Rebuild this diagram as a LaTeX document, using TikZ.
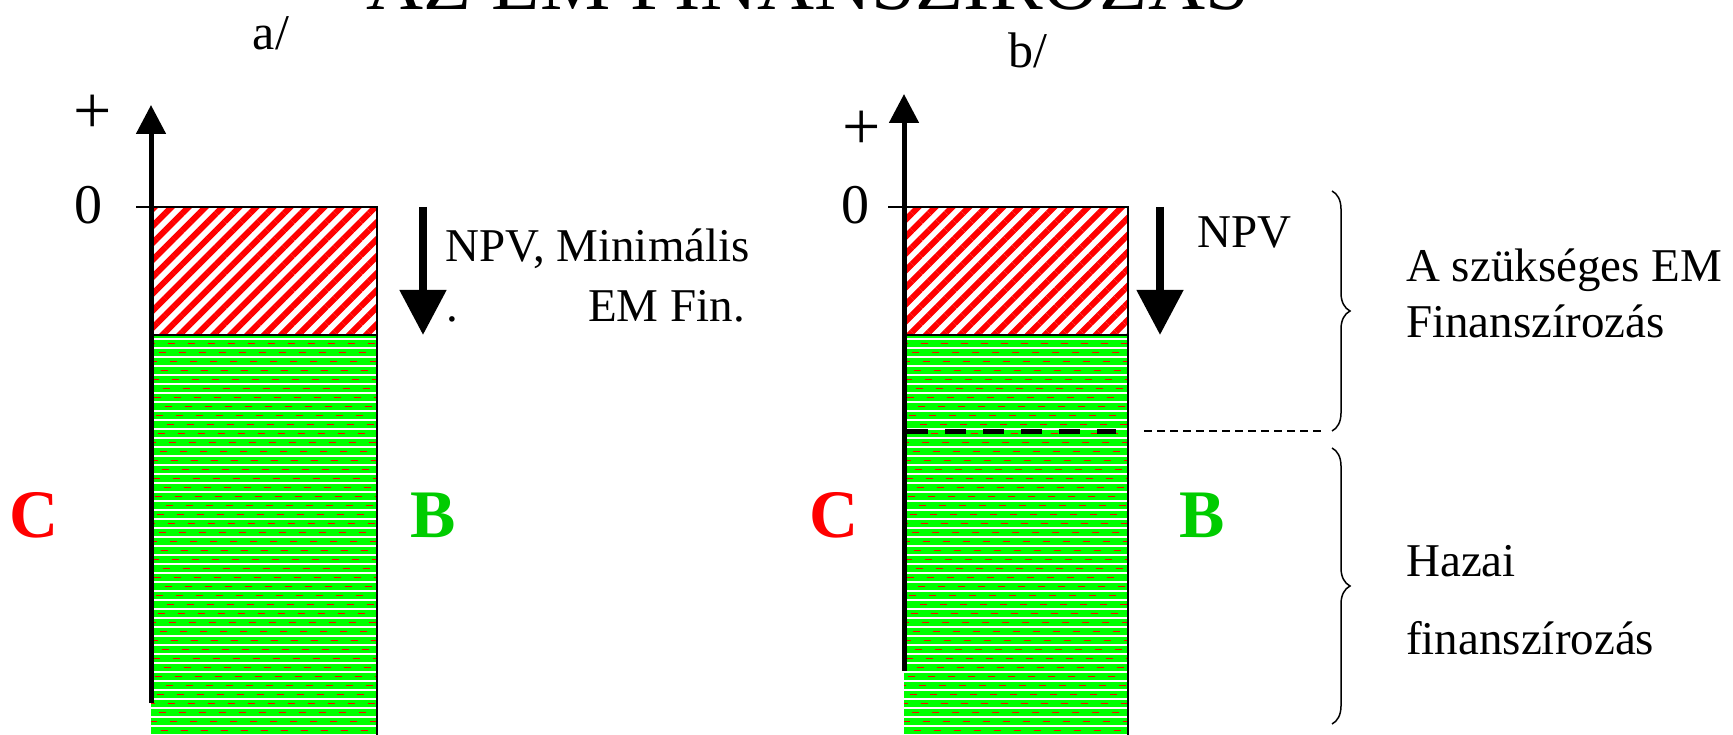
\documentclass[tikz,border=0pt]{standalone}
\usepackage{fontspec}
\setmainfont{Liberation Serif}
\usetikzlibrary{positioning, arrows.meta, patterns.meta, decorations.pathreplacing}
\definecolor{emred}{RGB}{255,0,0}
\definecolor{homegreen}{RGB}{0,255,0}
\definecolor{lettergreen}{RGB}{0,204,0}

\begin{document}
\begin{tikzpicture}[x=1pt, y=-1pt,
    txt/.style={inner sep=0pt, font=\fontsize{47}{54}\selectfont},
    signtxt/.style={inner sep=0pt, font=\fontsize{56}{60}\selectfont},
    plustxt/.style={inner sep=0pt, font=\fontsize{68}{70}\selectfont},
    bigletter/.style={inner sep=0pt, font=\fontsize{68}{70}\selectfont\bfseries},
    axisline/.style={line width=5pt, -{Triangle[width=29pt,length=29pt]}},
    npvarrow/.style={line width=8pt, -{Triangle[width=45pt,length=45pt]}},
    edge/.style={line width=2pt},
    redhatch/.style={pattern={Lines[angle=45,distance=12pt,line width=6pt]}, pattern color=emred}]

    \useasboundingbox (0,0) rectangle (1733,735);

    % Title, mostly cut off at the top edge
    \node[inner sep=0pt, anchor=base, font=\fontsize{79}{80}\selectfont] (title) at (808,10) {AZ EM FINANSZÍROZÁS};

    % Panel labels
    \node[inner sep=0pt, font=\fontsize{50}{56}\selectfont] (panela) at (271,33) {a/};
    \node[inner sep=0pt, font=\fontsize{50}{56}\selectfont] (panelb) at (1028,50) {b/};

    % ---------------- panel a ----------------
    % Red hatched part (EM financing)
    \fill[white] (151,207) rectangle (377,335);
    \fill[redhatch] (151,207) rectangle (377,335);

    % Green part (home financing)
    \fill[homegreen] (151,335) rectangle (377,740);
    \begin{scope}
        \clip (151,335) rectangle (377,740);
        \foreach \y in {339,348,...,735} {\draw[white, line width=1.5pt] (151,\y) -- (377,\y);}
        \foreach \y in {343.5,352.5,...,735} {\draw[emred, line width=1.4pt, dash pattern=on 7pt off 13pt, dash phase=\y pt] (151,\y) -- (377,\y);}
    \end{scope}

    % Outline and tick
    \draw[edge] (136,207) -- (377,207) -- (377,740);
    \draw[edge] (151,335) -- (377,335);

    % Vertical axis
    \draw[axisline] (151,703) -- (151,105);
    \node[plustxt] (plusa) at (93,114) {+};
    \node[signtxt] (zeroa) at (88,205) {0};

    % NPV arrow and its text
    \draw[npvarrow] (423,207) -- (423,335);
    \node[txt, anchor=base west] (npva) at (445,262) {NPV, Minimális};
    \node[txt, anchor=base west] (emfina) at (588,322) {EM Fin.};
    \node[txt, anchor=base west] (dota) at (446,322) {.};

    % Side letters
    \node[bigletter, text=emred] (ca) at (34,515) {C};
    \node[bigletter, text=lettergreen] (ba) at (433,515) {B};

    % ---------------- panel b ----------------
    % Red hatched part (EM financing)
    \fill[white] (904,207) rectangle (1128,335);
    \fill[redhatch] (904,207) rectangle (1128,335);

    % Green part (home financing)
    \fill[homegreen] (904,335) rectangle (1128,740);
    \begin{scope}
        \clip (904,335) rectangle (1128,740);
        \foreach \y in {339,348,...,735} {\draw[white, line width=1.5pt] (904,\y) -- (1128,\y);}
        \foreach \y in {343.5,352.5,...,735} {\draw[emred, line width=1.4pt, dash pattern=on 7pt off 13pt, dash phase=\y pt] (904,\y) -- (1128,\y);}
    \end{scope}

    % Outline and tick
    \draw[edge] (888,207) -- (1128,207) -- (1128,740);
    \draw[edge] (904,335) -- (1128,335);

    % Required EM financing limit
    \draw[line width=5pt, dash pattern=on 21pt off 17pt] (907,431) -- (1116,431);
    \draw[line width=1.5pt, dash pattern=on 8pt off 5pt] (1144,431) -- (1321,431);

    % Vertical axis
    \draw[axisline] (904,671) -- (904,94);
    \node[plustxt] (plusb) at (862,130) {+};
    \node[signtxt] (zerob) at (855,205) {0};

    % NPV arrow and its text
    \draw[npvarrow] (1160,207) -- (1160,335);
    \node[txt, anchor=base west] (npvb) at (1197,248) {NPV};

    % Side letters
    \node[bigletter, text=emred] (cb) at (834,515) {C};
    \node[bigletter, text=lettergreen] (bb) at (1202,515) {B};

    % Braces with their labels
    \draw[line width=1.5pt, decorate, decoration={brace, amplitude=18pt}] (1332,191) -- (1332,431);
    \draw[line width=1.5pt, decorate, decoration={brace, amplitude=18pt}] (1332,448) -- (1332,724);
    \node[txt, anchor=base west] (needa) at (1406,282) {A szükséges EM};
    \node[txt, anchor=base west] (needb) at (1406,338) {Finanszírozás};
    \node[txt, anchor=base west] (homea) at (1406,576) {Hazai};
    \node[txt, anchor=base west] (homeb) at (1406,654) {finanszírozás};

\end{tikzpicture}
\end{document}
